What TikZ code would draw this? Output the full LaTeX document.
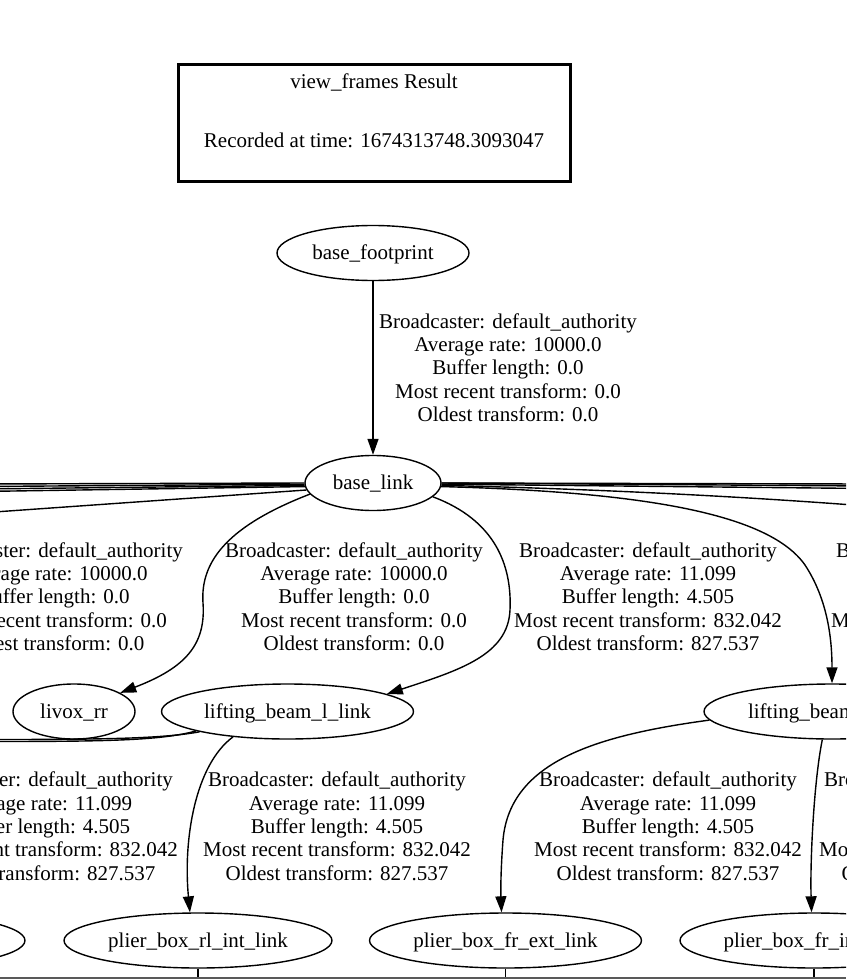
\documentclass[tikz,border=0pt]{standalone}
\usepackage{fontspec}
\setmainfont{Liberation Serif}
\usetikzlibrary{arrows.meta,shapes.geometric}
\begin{document}
\begin{tikzpicture}[x=1pt,y=-1pt,
  every node/.style={font=\fontsize{21}{23.3}\selectfont},
  frame/.style={ellipse, draw, line width=1.4pt, inner sep=0pt, minimum height=55pt, text height=18.3pt, text depth=4.6pt},
  lbl/.style={align=center, inner sep=0pt},
  conn/.style={line width=1.4pt},
  conna/.style={conn, -{Triangle[length=16pt,width=11pt]}}]
\useasboundingbox (0,0) rectangle (846,979);
\clip (0,0) rectangle (846,979);

% title box
\node[draw, line width=3pt, minimum width=392pt, minimum height=116pt, inner sep=0pt] (title) at (374,123) {};
\node[lbl] (titletext) at (374,110.5) {view\_frames Result\\[36pt]Recorded at time: 1674313748.3093047};

% frames
\node[frame, minimum width=192pt] (bf) at (373,253) {base\_footprint};
\node[frame, minimum width=136pt] (bl) at (373,483) {base\_link};
\node[frame, minimum width=122pt] (livox) at (74,711.5) {livox\_rr};
\node[frame, minimum width=252pt] (ll) at (287.5,711.5) {lifting\_beam\_l\_link};
\node[frame, minimum width=256pt] (lr) at (832,711.5) {lifting\_beam\_r\_link};
\node[frame, minimum width=274pt] (rle) at (-112,940.5) {plier\_box\_rl\_ext\_link};
\node[frame, minimum width=268pt] (rli) at (198,940.5) {plier\_box\_rl\_int\_link};
\node[frame, minimum width=272pt] (fre) at (505.5,940.5) {plier\_box\_fr\_ext\_link};
\node[frame, minimum width=268pt] (fri) at (814,940.5) {plier\_box\_fr\_int\_link};

% off-picture ends
\coordinate (L1) at (-20,484);
\coordinate (L2) at (-20,486.5);
\coordinate (L3) at (-20,489);
\coordinate (L4) at (-20,491.5);
\coordinate (L5) at (-20,513);
\coordinate (R1) at (866,484);
\coordinate (R2) at (866,486);
\coordinate (R3) at (866,488.5);
\coordinate (R5) at (866,506);
\coordinate (O1) at (-20,739.5);
\coordinate (O2) at (-20,741.5);
\coordinate (S1) at (198,978);
\coordinate (S2) at (505.5,978);
\coordinate (S3) at (814,978);

% edges
\draw[conna] (bf) -- (bl);
\draw[conn] (bl.180) -- (L1);
\draw[conn] (bl.181) -- (L2);
\draw[conn] (bl.182) -- (L3);
\draw[conn] (bl.183) -- (L4);
\draw[conn] (bl.186) -- (L5);
\draw[conn] (bl.0) -- (R1);
\draw[conn] (bl.0) -- (R2);
\draw[conn] (bl.-1) -- (R3);
\draw[conn] (bl.-2) .. controls (600,489) and (750,497) .. (R5);
\draw[conna] (bl.-3) .. controls (650,492) and (770,515) .. (805,565) .. controls (828,600) and (832,640) .. (lr.north);
\draw[conna] (bl.190) .. controls (230,525) and (200,560) .. (203,603) .. controls (206,645) and (185,668) .. (livox.22);
\draw[conna] (bl.-13) .. controls (495,520) and (512,565) .. (510,610) .. controls (508,655) and (460,670) .. (ll.10);

\draw[conn] (ll.193) .. controls (160,739) and (100,739.5) .. (O1);
\draw[conn] (ll.192) .. controls (160,741) and (100,741.5) .. (O2);
\draw[conna] (ll.205) .. controls (195,765) and (183,840) .. (rli.106);
\draw[conna] (lr.184) .. controls (600,735) and (510,760) .. (503,840) .. controls (500,880) and (501,900) .. (fre.98);
\draw[conna] (lr.251) .. controls (814,780) and (810,860) .. (fri.95);

\draw[conn] (rli.south) -- (S1);
\draw[conn] (fre.south) -- (S2);
\draw[conn] (fri.south) -- (S3);
\draw[line width=2pt, black!65] (0,978) -- (846,978);

% labels
\node[lbl] (la) at (508,367.5) {Broadcaster: default\_authority\\Average rate: 10000.0\\Buffer length: 0.0\\Most recent transform: 0.0\\Oldest transform: 0.0};
\node[lbl] (lb) at (54,596.7) {Broadcaster: default\_authority\\Average rate: 10000.0\\Buffer length: 0.0\\Most recent transform: 0.0\\Oldest transform: 0.0};
\node[lbl] (lc) at (354,596.7) {Broadcaster: default\_authority\\Average rate: 10000.0\\Buffer length: 0.0\\Most recent transform: 0.0\\Oldest transform: 0.0};
\node[lbl] (ld) at (648,596.7) {Broadcaster: default\_authority\\Average rate: 11.099\\Buffer length: 4.505\\Most recent transform: 832.042\\Oldest transform: 827.537};
\node[lbl] (le) at (965,596.7) {Broadcaster: default\_authority\\Average rate: 11.099\\Buffer length: 4.505\\Most recent transform: 832.042\\Oldest transform: 827.537};
\node[lbl] (lf) at (44,826.3) {Broadcaster: default\_authority\\Average rate: 11.099\\Buffer length: 4.505\\Most recent transform: 832.042\\Oldest transform: 827.537};
\node[lbl] (lg) at (337,826.3) {Broadcaster: default\_authority\\Average rate: 11.099\\Buffer length: 4.505\\Most recent transform: 832.042\\Oldest transform: 827.537};
\node[lbl] (lh) at (668,826.3) {Broadcaster: default\_authority\\Average rate: 11.099\\Buffer length: 4.505\\Most recent transform: 832.042\\Oldest transform: 827.537};
\node[lbl] (li) at (953,826.3) {Broadcaster: default\_authority\\Average rate: 11.099\\Buffer length: 4.505\\Most recent transform: 832.042\\Oldest transform: 827.537};
\end{tikzpicture}
\end{document}
